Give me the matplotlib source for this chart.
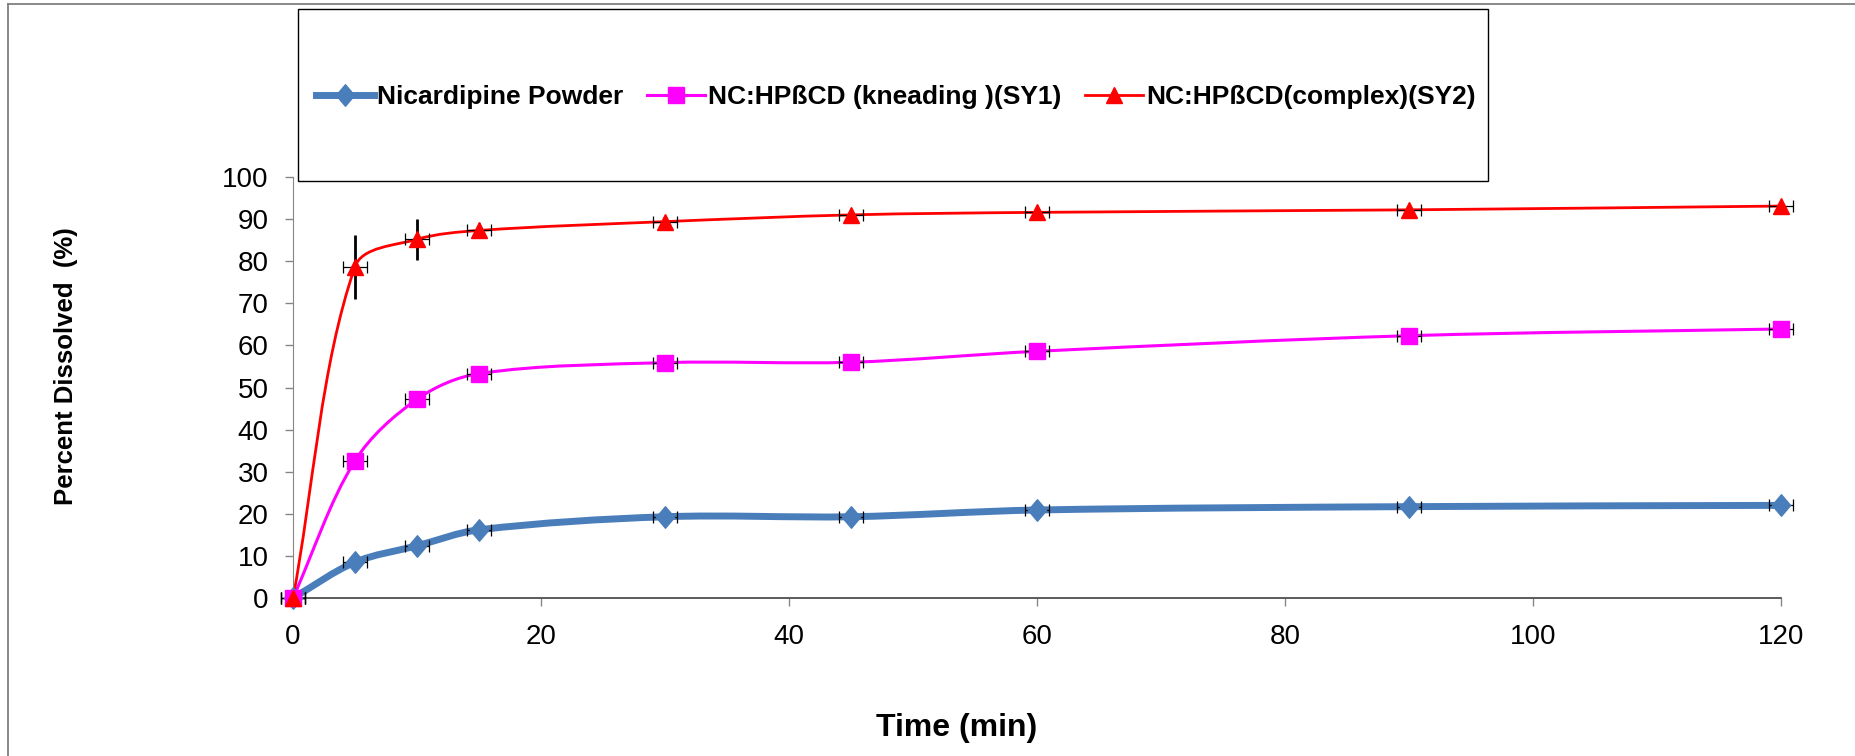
import matplotlib
matplotlib.use("Agg")
import matplotlib.pyplot as plt
from matplotlib.path import Path
from matplotlib.patches import PathPatch, Rectangle
from matplotlib.lines import Line2D
import numpy as np

plt.rcParams['font.family'] = ['Liberation Sans', 'DejaVu Sans']

# ---- data ----
time_min = [0, 5, 10, 15, 30, 45, 60, 90, 120]
powder = [0, 8.5, 12.4, 16.2, 19.3, 19.3, 20.9, 21.7, 22.0]
powder_err = [0.3, 1.2, 1.0, 1.2, 0.6, 0.6, 0.6, 0.6, 0.6]
kneading = [0, 32.6, 47.2, 53.3, 55.9, 56.0, 58.6, 62.3, 63.9]
kneading_err = [0.3, 0.8, 0.8, 0.8, 0.8, 0.8, 0.8, 0.8, 0.8]
complex_ = [0, 78.7, 85.2, 87.3, 89.4, 91.0, 91.6, 92.2, 93.1]
complex_err = [0.3, 7.6, 4.9, 1.8, 0.8, 0.8, 0.8, 0.8, 0.8]
time_err = [1.0] * 9

labels = ["Nicardipine Powder", "NC:HP\u00dfCD (kneading )(SY1)", "NC:HP\u00dfCD(complex)(SY2)"]
colors = ["#4A7EBB", "#FF00FF", "#FF0000"]
xticks = [0, 20, 40, 60, 80, 100, 120]
yticks = [0, 10, 20, 30, 40, 50, 60, 70, 80, 90, 100]

W, H = 1855, 756
fig = plt.figure(figsize=(W / 100, H / 100), dpi=100)

def fx(px):
    return px / W

def fy(py):
    return 1 - py / H

ax = fig.add_axes([fx(293), fy(598), fx(1781) - fx(293), fy(177) - fy(598)])
ax.set_xlim(0, 120)
ax.set_ylim(0, 100)
ax.set_xticks(xticks)
ax.set_yticks(yticks)
ax.tick_params(axis='both', labelsize=20, direction='out', length=5.5, width=1,
               colors='#868686', labelcolor='black')
ax.tick_params(axis='y', pad=12)
ax.tick_params(axis='x', pad=13)
for s in ['top', 'right']:
    ax.spines[s].set_visible(False)
ax.spines['left'].set_color('#868686')
ax.spines['bottom'].set_color('#404040')
ax.spines['bottom'].set_linewidth(1.2)

diamond = Path([(0, 1), (0.85, 0), (0, -1), (-0.85, 0), (0, 1)],
               [Path.MOVETO, Path.LINETO, Path.LINETO, Path.LINETO, Path.CLOSEPOLY])

series = [
    (powder, powder_err, colors[0], diamond, 15.5, 5.0, 1.0),
    (kneading, kneading_err, colors[1], 's', 11, 2.2, 1.0),
    (complex_, complex_err, colors[2], '^', 11.5, 2.0, 2.0),
]


def smooth_path(xs, ys):
    # Bezier control points computed in screen space, tangent scaled by segment length
    tr = ax.transData
    P = tr.transform(np.column_stack([xs, ys]).astype(float))
    n = len(P)
    verts = [P[0]]
    codes = [Path.MOVETO]

    def tangent(i):
        p0 = P[i - 1] if i > 0 else P[i]
        p2 = P[i + 1] if i + 1 < n else P[i]
        d = p2 - p0
        L = np.linalg.norm(P[i] - p0) + np.linalg.norm(p2 - P[i])
        return d / L if L > 0 else d * 0

    for i in range(n - 1):
        seg = np.linalg.norm(P[i + 1] - P[i])
        c1 = P[i] + tangent(i) * seg / 3.0
        c2 = P[i + 1] - tangent(i + 1) * seg / 3.0
        verts += [c1, c2, P[i + 1]]
        codes += [Path.CURVE4] * 3
    verts = tr.inverted().transform(np.array(verts))
    return Path(verts, codes)


handles = []
for vals, yerr, col, mk, ms, lw, elw in series:
    patch = PathPatch(smooth_path(time_min, vals), fill=False, edgecolor=col,
                      linewidth=lw, transform=ax.transData, zorder=2,
                      capstyle='round', joinstyle='round')
    patch.set_clip_on(False)
    ax.add_patch(patch)
    ax.errorbar(time_min, vals, xerr=time_err, fmt='none', ecolor='black',
                elinewidth=0.9, capsize=4, capthick=0.9, zorder=3, clip_on=False)
    ax.errorbar(time_min, vals, yerr=yerr, fmt='none', ecolor='black',
                elinewidth=elw, capsize=0, zorder=3, clip_on=False)
    ax.plot(time_min, vals, linestyle='none', marker=mk, markersize=ms,
            color=col, markeredgecolor=col, zorder=4, clip_on=False)
    handles.append(Line2D([], [], color=col, lw=lw, marker=mk, markersize=ms,
                          markeredgecolor=col))

# legend box
fig.patches.append(Rectangle((fx(298), fy(181)), fx(1488) - fx(298), fy(9) - fy(181),
                             transform=fig.transFigure, fill=False, edgecolor='black',
                             linewidth=1.0, zorder=5))
fig.legend(handles, labels, loc='center', bbox_to_anchor=(fx(896), fy(97)),
           ncol=3, frameon=False, prop={'size': 19, 'weight': 'bold'},
           handlelength=2.2, handletextpad=0.12, columnspacing=0.9)

# axis titles
fig.text(fx(957), fy(728), "Time (min)", ha='center', va='center',
         fontsize=23, fontweight='bold')
fig.text(fx(66), fy(366), "Percent Dissolved  (%)", ha='center', va='center',
         rotation=90, fontsize=18.5, fontweight='bold')

# outer chart-area border (top and left visible)
fig.add_artist(Line2D([fx(7.5), 1.0], [fy(4), fy(4)], transform=fig.transFigure,
                      color='#808080', linewidth=1.3))
fig.add_artist(Line2D([fx(7.5), fx(7.5)], [fy(4), 0.0], transform=fig.transFigure,
                      color='#808080', linewidth=1.3))

fig.savefig("out.png", dpi=100)
